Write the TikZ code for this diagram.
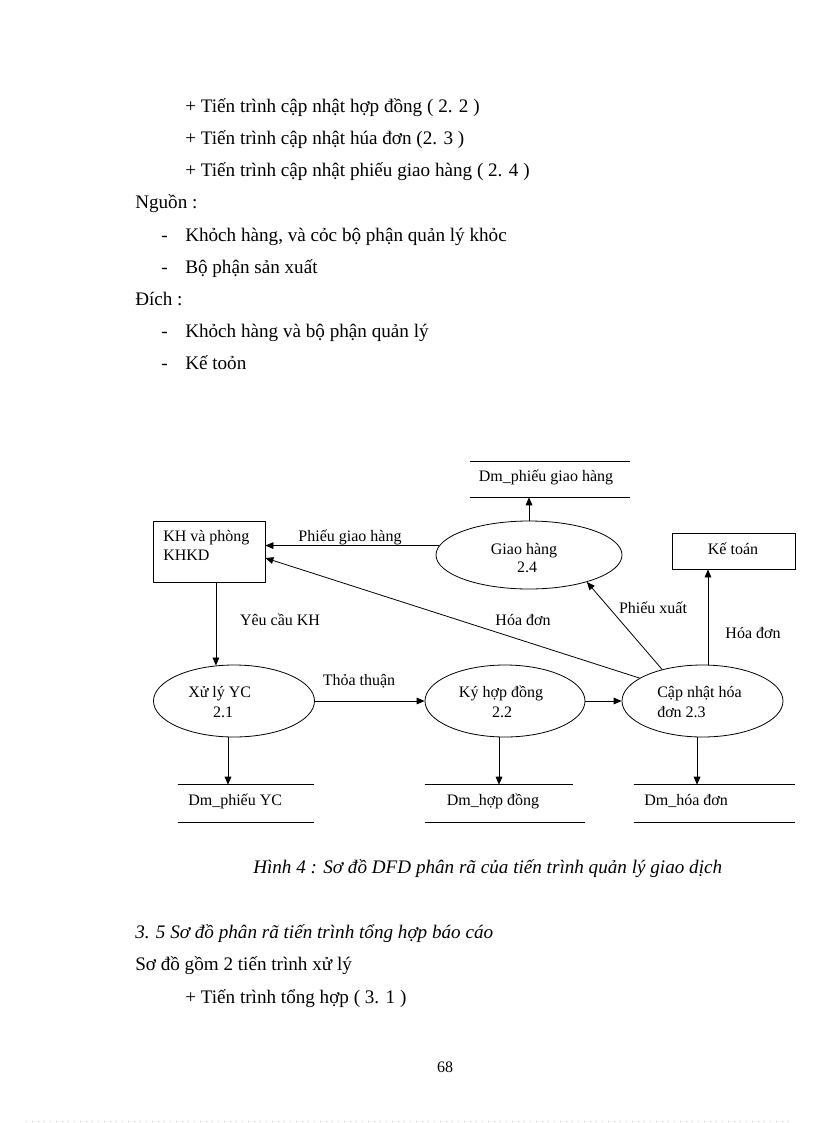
\documentclass[tikz,border=0pt]{standalone}
\usepackage{fontspec}
\setmainfont{Liberation Serif}
\usetikzlibrary{arrows.meta,shapes.geometric,calc}
\begin{document}
\begin{tikzpicture}[x=0.75pt,y=-0.75pt,
  body/.style={inner sep=0pt,anchor=base west,font=\fontsize{14.35}{16}\selectfont},
  lbl/.style={inner sep=0pt,anchor=base,font=\fontsize{12}{14}\selectfont},
  lblw/.style={lbl,anchor=base west},
  proc/.style={draw,ellipse,inner sep=0pt,line width=0.6pt},
  ent/.style={draw,rectangle,inner sep=0pt,line width=0.6pt},
  store/.style={inner sep=0pt,minimum height=27.75pt},
  sline/.style={line width=0.6pt},
  flow/.style={line width=0.6pt,-{Triangle[length=6pt,width=5pt]}}]
\useasboundingbox (0,0) rectangle (816,1123);

% ---------- text above ----------
\node[body] (t1) at (185,112.5) {+ Tiến trình cập nhật hợp đồng ( 2. 2 )};
\node[body] (t2) at (185,145) {+ Tiến trình cập nhật húa đơn (2. 3 )};
\node[body] (t3) at (185,177) {+ Tiến trình cập nhật phiếu giao hàng ( 2. 4 )};
\node[body] (t4) at (135,209) {Nguồn :};
\node[body] (t5a) at (161,241.5) {-};
\node[body] (t5) at (185,241.5) {Khỏch hàng, và cỏc bộ phận quản lý khỏc};
\node[body] (t6a) at (161,273) {-};
\node[body] (t6) at (185,273) {Bộ phận sản xuất};
\node[body] (t7) at (135,305) {Đích :};
\node[body] (t8a) at (161,337.5) {-};
\node[body] (t8) at (185,337.5) {Khỏch hàng và bộ phận quản lý};
\node[body] (t9a) at (161,369.5) {-};
\node[body] (t9) at (185,369.5) {Kế toỏn};

% ---------- diagram shapes ----------
\node[ent,minimum width=84pt,minimum height=45.75pt] (kh) at (209,551.5) {};
\node[ent,minimum width=92.25pt,minimum height=27pt] (kt) at (733.5,551) {};
\node[proc,minimum width=139.5pt,minimum height=51pt] (gh) at (529,555) {};
\node[proc,minimum width=120.75pt,minimum height=54pt] (xl) at (234,701) {};
\node[proc,minimum width=120pt,minimum height=54pt] (ky) at (505,701) {};
\node[proc,minimum width=120.75pt,minimum height=54pt] (cn) at (702.5,701) {};

\node[store,minimum width=120pt,minimum height=26.25pt] (s24) at (550,479.5) {};
\node[store,minimum width=102pt] (s21) at (246,803.5) {};
\node[store,minimum width=120pt] (s22) at (505,803.5) {};
\node[store,minimum width=120.75pt] (s23) at (714.5,803.5) {};

\draw[sline] (s24.north west) -- (s24.north east) (s24.south west) -- (s24.south east);
\draw[sline] (s21.north west) -- (s21.north east) (s21.south west) -- (s21.south east);
\draw[sline] (s22.north west) -- ([xshift=-9pt]s22.north east) (s22.south west) -- (s22.south east);
\draw[sline] (s23.north west) -- (s23.north east) (s23.south west) -- (s23.south east);

% ---------- diagram texts ----------
\node[lblw] (khA) at (163,541) {KH và phòng};
\node[lblw] (khB) at (163,560) {KHKD};
\node[lbl] (ktT) at (733,554) {Kế toán};
\node[lbl] (ghA) at (524,554) {Giao hàng};
\node[lbl] (ghB) at (527,572) {2.4};
\node[lbl] (s24T) at (546,481) {Dm\_phiếu giao hàng};
\node[lblw] (xlA) at (188,697) {Xử lý YC};
\node[lbl] (xlB) at (223,717) {2.1};
\node[lbl] (kyA) at (501,697) {Ký hợp đồng};
\node[lbl] (kyB) at (502,717) {2.2};
\node[lblw] (cnA) at (657,697) {Cập nhật hóa};
\node[lblw] (cnB) at (657,717) {đơn 2.3};
\node[lblw] (s21T) at (188,805) {Dm\_phiếu YC};
\node[lbl] (s22T) at (493,805) {Dm\_hợp đồng};
\node[lblw] (s23T) at (644,805) {Dm\_hóa đơn};

% ---------- flows ----------
\draw[flow] (gh.174) -- (gh.174 -| kh.east);
\draw[flow] (gh.north) -- (gh.north |- s24.south);
\draw[flow] (cn.160) -- ([yshift=-4.9pt]kh.east);
\draw[flow] (cn.142) -- (gh.335);
\draw[flow] ([xshift=4.1pt]cn.north) -- ([xshift=4.1pt]cn.north |- kt.south);
\draw[flow] (xl.117 |- kh.south) -- (xl.117);
\draw[flow] (xl.east) -- (ky.west);
\draw[flow] (ky.east) -- (cn.west);
\draw[flow] ([xshift=-4.5pt]xl.south) -- ([xshift=-4.5pt]xl.south |- s21.north);
\draw[flow] ([xshift=-4.5pt]ky.south) -- ([xshift=-4.5pt]ky.south |- s22.north);
\draw[flow] ([xshift=-4.1pt]cn.south) -- ([xshift=-4.1pt]cn.south |- s23.north);

\node[lbl] (fPG) at (350,541) {Phiếu giao hàng};
\node[lbl] (fYC) at (280,625) {Yêu cầu KH};
\node[lbl] (fHD1) at (523,625) {Hóa đơn};
\node[lbl] (fPX) at (653,613) {Phiếu xuất};
\node[lbl] (fHD2) at (753,638) {Hóa đơn};
\node[lbl] (fTT) at (359,685) {Thỏa thuận};

% ---------- text below ----------
\node[body,font=\fontsize{14.35}{16}\selectfont\itshape] (cap) at (253,873) {Hình 4 : Sơ đồ DFD phân rã của tiến trình quản lý giao dịch};
\node[body,font=\fontsize{14.35}{16}\selectfont\itshape] (b1) at (135,938) {3. 5 Sơ đồ phân rã tiến trình tổng hợp báo cáo};
\node[body] (b2) at (135,970) {Sơ đồ gồm 2 tiến trình xử lý};
\node[body] (b3) at (185,1003) {+ Tiến trình tổng hợp ( 3. 1 )};
\node[lbl] (pg) at (445,1072) {68};

\coordinate (dl) at (26,1121);
\coordinate (dr) at (792,1121);
\draw[gray!45,line width=0.5pt,dash pattern=on 0.75pt off 3.75pt] (dl) -- (dr);
\end{tikzpicture}
\end{document}
